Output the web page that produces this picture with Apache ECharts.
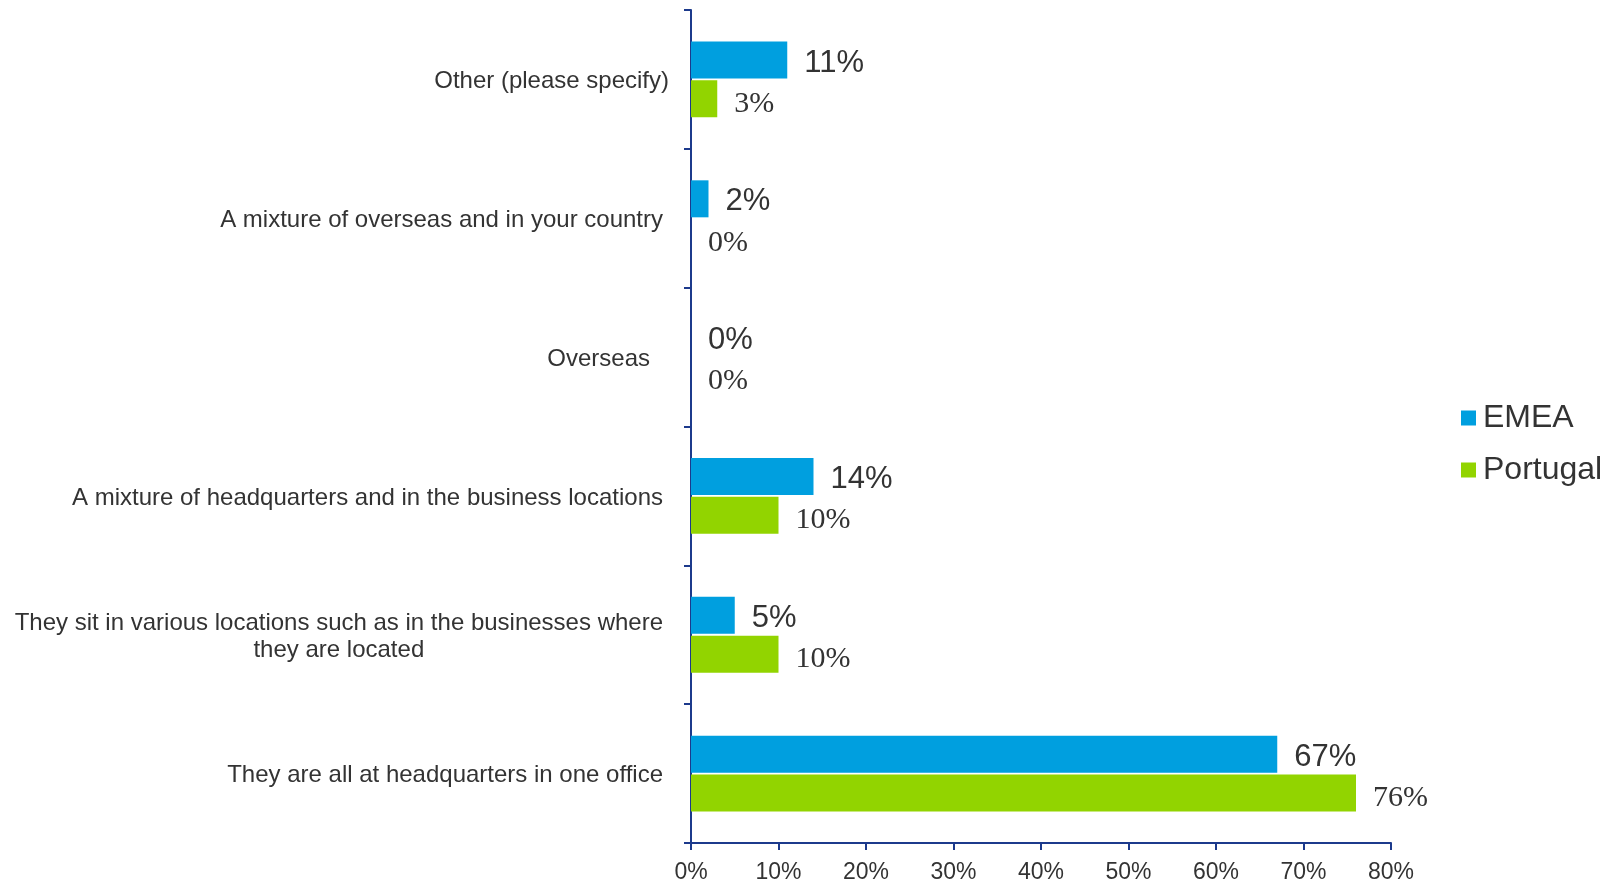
<!DOCTYPE html>
<html>
<head>
<meta charset="utf-8">
<script src="https://cdn.jsdelivr.net/npm/echarts@6/dist/echarts.min.js"></script>
<style>
  html, body { margin: 0; padding: 0; background: #ffffff; }
  #chart { width: 1612px; height: 884px; }
</style>
</head>
<body>
<div id="chart"></div>
<script>
// Where the team members sit, top to bottom
const categories = [
  'Other (please specify)',
  'A mixture of overseas and in your country',
  'Overseas',
  'A mixture of headquarters and in the business locations',
  'They sit in various locations such as in the businesses where\nthey are located',
  'They are all at headquarters in one office'
];
const emeaValues = [11, 2, 0, 14, 5, 67];
const portugalValues = [3, 0, 0, 10, 10, 76];
const seriesNames = ['EMEA', 'Portugal'];
const xTicks = [0, 80, 10]; // min, max, step (percent)

const AXIS_COLOR = '#1c3a8c';
const TEXT_COLOR = '#333333';
const SANS = '"Liberation Sans", Arial, sans-serif';
const SERIF = '"Liberation Serif", "Times New Roman", serif';

// Small right-hand nudges for individual category labels
const labelPad = { 'Other (please specify)': 0, 'Overseas': 19 };

function richStyle(rightPad) {
  return {
    align: 'center',
    fontFamily: SANS,
    fontSize: 24,
    color: TEXT_COLOR,
    lineHeight: 27,
    padding: [4, rightPad, 0, 0]
  };
}

const chart = echarts.init(document.getElementById('chart'));

chart.setOption({
  animation: false,
  backgroundColor: '#ffffff',
  grid: { left: 691, right: 221, top: 10, bottom: 41, containLabel: false, outerBoundsMode: 'none' },
  legend: {
    orient: 'vertical',
    left: 1456,
    top: 397,
    icon: 'rect',
    itemWidth: 15,
    itemHeight: 15,
    itemGap: 20,
    textStyle: { fontFamily: SANS, fontSize: 32, color: TEXT_COLOR, padding: [0, 0, 0, 2] },
    data: seriesNames
  },
  xAxis: {
    type: 'value',
    min: xTicks[0],
    max: xTicks[1],
    interval: xTicks[2],
    splitLine: { show: false },
    axisLine: { show: true, lineStyle: { color: AXIS_COLOR, width: 2 } },
    axisTick: { show: true, length: 7, lineStyle: { color: AXIS_COLOR, width: 2 } },
    axisLabel: {
      formatter: '{value}%',
      fontFamily: SANS,
      fontSize: 23,
      color: TEXT_COLOR,
      margin: 18
    }
  },
  yAxis: {
    type: 'category',
    inverse: true,
    data: categories,
    axisLine: { show: true, lineStyle: { color: AXIS_COLOR, width: 2 } },
    axisTick: { show: true, length: 7, lineStyle: { color: AXIS_COLOR, width: 2 } },
    axisLabel: {
      margin: 22,
      fontFamily: SANS,
      fontSize: 24,
      color: TEXT_COLOR,
      lineHeight: 27,
      formatter: function (v) {
        const pad = (v in labelPad) ? labelPad[v] : 6;
        const key = 'p' + pad;
        return v.split('\n').map(function (line) { return '{' + key + '|' + line + '}'; }).join('\n');
      },
      rich: {
        p0: richStyle(0),
        p6: richStyle(6),
        p19: richStyle(19)
      }
    }
  },
  series: [
    {
      name: seriesNames[0],
      type: 'bar',
      data: emeaValues,
      barWidth: 37,
      barGap: '5%',
      itemStyle: { color: '#009fdf' },
      label: {
        show: true,
        position: 'right',
        distance: 17,
        offset: [0, 3],
        formatter: '{c}%',
        fontFamily: SANS,
        fontSize: 31,
        color: TEXT_COLOR
      }
    },
    {
      name: seriesNames[1],
      type: 'bar',
      data: portugalValues,
      barWidth: 37,
      barGap: '5%',
      itemStyle: { color: '#92d400' },
      label: {
        show: true,
        position: 'right',
        distance: 17,
        offset: [0, 5],
        formatter: '{c}%',
        fontFamily: SERIF,
        fontSize: 30,
        color: TEXT_COLOR
      }
    }
  ]
});
</script>
</body>
</html>
